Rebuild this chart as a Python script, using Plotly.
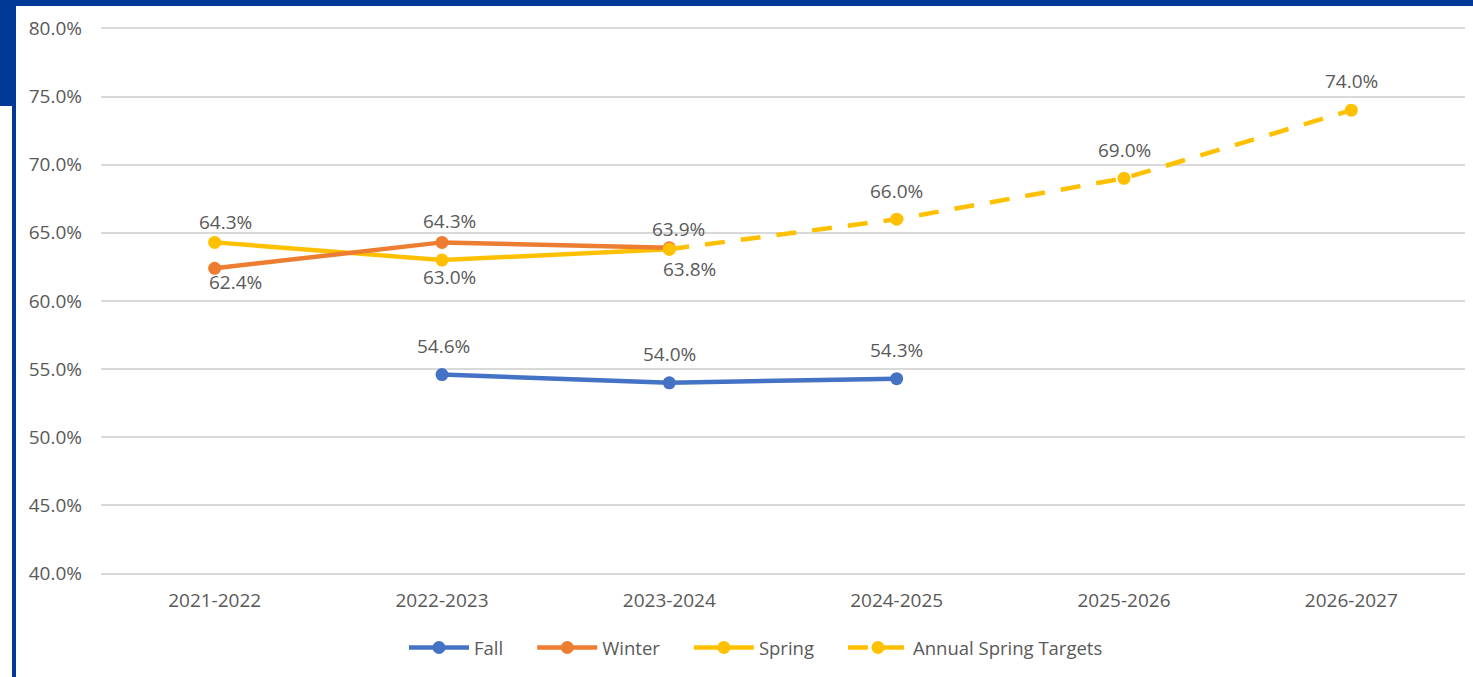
import plotly.graph_objects as go

categories = ["2021-2022", "2022-2023", "2023-2024", "2024-2025", "2025-2026", "2026-2027"]
fall = [None, 54.6, 54.0, 54.3, None, None]
winter = [62.4, 64.3, 63.9, None, None, None]
spring = [64.3, 63.0, 63.8, None, None, None]
targets = [None, None, 63.8, 66.0, 69.0, 74.0]
target_labelled = [False, False, False, True, True, True]
y_tickvals = [40, 45, 50, 55, 60, 65, 70, 75, 80]
y_ticktext = ["40.0%", "45.0%", "50.0%", "55.0%", "60.0%", "65.0%", "70.0%", "75.0%", "80.0%"]
series_names = ["Fall", "Winter", "Spring", "Annual Spring Targets"]

# label offsets in pixels (style, not data): (xshift, yshift)
fall_off = [None, (1, 29), (0, 29), (0, 29), None, None]
winter_off = [(21, -14), (7, 21), (9, 19), None, None, None]
spring_off = [(11, 20), (7, -17), (20, -20), None, None, None]
target_off = [None, None, None, (0, 28), (0, 28), (0, 29)]

W, H = 1473, 677
L, R, T, B = 101, 8, 27, 102
pw, ph = W - L - R, H - T - B


def px(x):
    return (x - L) / pw


def py(y):
    return 1 - (y - T) / ph


PAD = "\u00a0" * 5  # spacing between legend entries
label_font = dict(family="Open Sans", size=19, color="#595959")
LW = 4.5
MS = 13

fig = go.Figure()
fig.add_trace(go.Scatter(x=categories, y=fall, name=series_names[0] + PAD, mode="lines+markers",
                         line=dict(color="#4472C4", width=LW), marker=dict(size=MS),
                         legendrank=1))
fig.add_trace(go.Scatter(x=categories, y=spring, name=series_names[2] + PAD, mode="lines+markers",
                         line=dict(color="#FFC000", width=LW), marker=dict(size=MS),
                         legendrank=3))
fig.add_trace(go.Scatter(x=categories, y=winter, name=series_names[1] + PAD, mode="lines+markers",
                         line=dict(color="#ED7D31", width=LW), marker=dict(size=MS),
                         legendrank=2))
fig.add_trace(go.Scatter(x=categories, y=targets, name=series_names[3], mode="lines+markers",
                         line=dict(color="#FFC000", width=LW, dash="20px,16px"), marker=dict(size=MS),
                         legendrank=4))

annotations = []


def add_labels(vals, offs, mask=None):
    for i, (c, v, o) in enumerate(zip(categories, vals, offs)):
        if v is None or o is None or (mask is not None and not mask[i]):
            continue
        annotations.append(dict(x=c, y=v, xref="x", yref="y", text=f"{v:.1f}%",
                                showarrow=False, xshift=o[0], yshift=o[1],
                                xanchor="center", yanchor="middle", font=label_font))


add_labels(fall, fall_off)
add_labels(winter, winter_off)
add_labels(spring, spring_off)
add_labels(targets, target_off, target_labelled)

blue = "#003A96"
shapes = [
    dict(type="rect", xref="paper", yref="paper", x0=px(0), x1=px(W), y0=py(0), y1=py(6),
         fillcolor=blue, line_width=0, layer="above"),
    dict(type="rect", xref="paper", yref="paper", x0=px(0), x1=px(16), y0=py(0), y1=py(106),
         fillcolor=blue, line_width=0, layer="above"),
    dict(type="rect", xref="paper", yref="paper", x0=px(12), x1=px(16), y0=py(0), y1=py(H),
         fillcolor=blue, line_width=0, layer="above"),
]

fig.update_layout(
    width=W, height=H,
    margin=dict(l=L, r=R, t=T, b=B),
    paper_bgcolor="white", plot_bgcolor="white",
    font=dict(family="Open Sans", color="#595959"),
    showlegend=True,
    legend=dict(orientation="h", x=px(756), xanchor="center", y=py(648), yanchor="middle",
                font=dict(size=18.5, color="#595959"), traceorder="normal", itemwidth=60),
    shapes=shapes,
    annotations=annotations,
)
fig.update_xaxes(type="category", range=[-0.5, 5.5], showgrid=False, showline=False,
                 ticks="", tickfont=dict(size=19, color="#595959"), ticklabelstandoff=12)
fig.update_yaxes(range=[39.9, 80.1], tickvals=y_tickvals, ticktext=y_ticktext,
                 showgrid=True, gridcolor="#D9D9D9", gridwidth=2, zeroline=False,
                 showline=False, tickfont=dict(size=19, color="#595959"), ticklabelstandoff=18)

fig.write_html("out.html")
